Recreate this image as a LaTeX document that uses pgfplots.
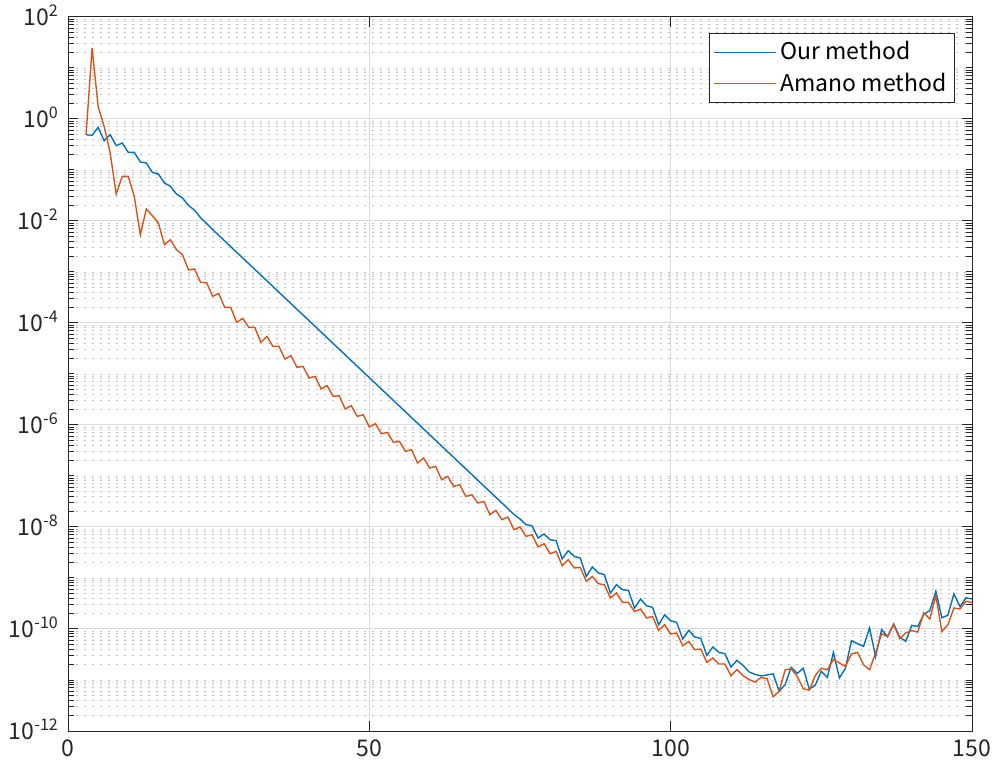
\documentclass[border=0pt]{standalone}
\usepackage{fontspec}
\setmainfont{Noto Sans CJK JP}
\usepackage{pgfplots}
\pgfplotsset{compat=1.18}
\usepackage{pgfplotstable}
\definecolor{mblue}{rgb}{0,0.447,0.741}
\definecolor{morange}{rgb}{0.85,0.325,0.098}
\definecolor{axgray}{rgb}{0.15,0.15,0.15}

% x, e = log10 of the residual
\pgfplotstableread{
x e
3 -0.308
4 -0.321
5 -0.164
6 -0.425
7 -0.308
8 -0.524
9 -0.471
10 -0.654
11 -0.654
12 -0.843
13 -0.863
14 -1.047
15 -1.078
16 -1.255
17 -1.320
18 -1.471
19 -1.549
20 -1.694
21 -1.790
22 -1.935
23 -2.050
24 -2.168
25 -2.280
26 -2.391
27 -2.503
28 -2.615
29 -2.726
30 -2.838
31 -2.950
32 -3.061
33 -3.173
34 -3.285
35 -3.397
36 -3.508
37 -3.620
38 -3.732
39 -3.843
40 -3.955
41 -4.067
42 -4.178
43 -4.290
44 -4.402
45 -4.514
46 -4.625
47 -4.737
48 -4.849
49 -4.960
50 -5.072
51 -5.184
52 -5.295
53 -5.407
54 -5.519
55 -5.631
56 -5.742
57 -5.854
58 -5.966
59 -6.077
60 -6.189
61 -6.301
62 -6.412
63 -6.524
64 -6.636
65 -6.748
66 -6.859
67 -6.971
68 -7.083
69 -7.194
70 -7.306
71 -7.418
72 -7.529
73 -7.641
74 -7.753
75 -7.843
76 -7.955
77 -7.975
78 -8.216
79 -8.137
80 -8.249
81 -8.269
82 -8.627
83 -8.465
84 -8.576
85 -8.608
86 -8.968
87 -8.784
88 -8.902
89 -8.935
90 -9.294
91 -9.131
92 -9.229
93 -9.243
94 -9.588
95 -9.412
96 -9.543
97 -9.576
98 -9.916
99 -9.720
100 -9.837
101 -9.871
102 -10.196
103 -10.027
104 -10.157
105 -10.184
106 -10.517
107 -10.353
108 -10.458
109 -10.484
110 -10.745
111 -10.615
112 -10.713
113 -10.84
114 -10.89
115 -10.92
116 -10.90
117 -10.88
118 -11.22
119 -11.09
120 -10.75
121 -10.87
122 -10.77
123 -11.18
124 -11.10
125 -10.83
126 -10.95
127 -10.46
128 -10.96
129 -10.77
130 -10.23
131 -10.29
132 -10.34
133 -9.98
134 -10.54
135 -10.01
136 -10.15
137 -9.90
138 -10.16
139 -10.24
140 -9.93
141 -9.95
142 -9.71
143 -9.64
144 -9.26
145 -9.78
146 -9.73
147 -9.31
148 -9.56
149 -9.39
150 -9.41
}\ours

\pgfplotstableread{
x e
3 -0.308
4 1.392
5 0.247
6 -0.145
7 -0.667
8 -1.471
9 -1.125
10 -1.125
11 -1.518
12 -2.269
13 -1.765
14 -1.896
15 -2.040
16 -2.465
17 -2.367
18 -2.563
19 -2.66
20 -2.96
21 -2.94
22 -3.204
23 -3.21
24 -3.478
25 -3.42
26 -3.694
27 -3.694
28 -3.988
29 -3.91
30 -4.086
31 -4.086
32 -4.380
33 -4.263
34 -4.459
35 -4.459
36 -4.706
37 -4.641
38 -4.870
39 -4.851
40 -5.079
41 -5.047
42 -5.294
43 -5.229
44 -5.439
45 -5.425
46 -5.686
47 -5.621
48 -5.831
49 -5.798
50 -6.039
51 -5.974
52 -6.171
53 -6.145
54 -6.34
55 -6.32
56 -6.518
57 -6.484
58 -6.745
59 -6.647
60 -6.843
61 -6.812
62 -7.073
63 -7.008
64 -7.204
65 -7.171
66 -7.400
67 -7.367
68 -7.529
69 -7.498
70 -7.759
71 -7.674
72 -7.857
73 -7.804
74 -8.053
75 -8.000
76 -8.184
77 -8.151
78 -8.392
79 -8.327
80 -8.524
81 -8.478
82 -8.759
83 -8.641
84 -8.804
85 -8.792
86 -9.067
87 -8.969
88 -9.112
89 -9.131
90 -9.392
91 -9.294
92 -9.478
93 -9.478
94 -9.66
95 -9.608
96 -9.784
97 -9.753
98 -10.027
99 -9.916
100 -10.098
101 -10.078
102 -10.327
103 -10.243
104 -10.406
105 -10.392
106 -10.655
107 -10.569
108 -10.686
109 -10.686
110 -10.916
111 -10.798
112 -10.916
113 -10.99
114 -11.04
115 -10.95
116 -10.975
117 -11.33
118 -11.22
119 -10.80
120 -10.78
121 -10.93
122 -11.17
123 -11.20
124 -10.91
125 -10.77
126 -10.80
127 -10.60
128 -10.667
129 -10.733
130 -10.49
131 -10.458
132 -10.70
133 -10.798
134 -10.471
135 -10.092
136 -10.145
137 -9.916
138 -10.19
139 -10.078
140 -10.033
141 -10.059
142 -9.686
143 -9.804
144 -9.347
145 -10.047
146 -9.916
147 -9.588
148 -9.608
149 -9.459
150 -9.478
}\amano

\begin{document}
\begin{tikzpicture}
\begin{axis}[
  scale only axis, width=452pt, height=357pt,
  at={(0,0)}, anchor=south west,
  xmin=0, xmax=150, ymin=1e-12, ymax=1e2, ymode=log,
  xtick={0,50,100,150}, xticklabels={0,50,100,150},
  ytick={1e-12,1e-10,1e-8,1e-6,1e-4,1e-2,1e0,1e2},
  yticklabels={10\textsuperscript{-12},10\textsuperscript{-10},10\textsuperscript{-8},10\textsuperscript{-6},10\textsuperscript{-4},10\textsuperscript{-2},10\textsuperscript{0},10\textsuperscript{2}},
  minor ytick={2e-12,3e-12,4e-12,5e-12,6e-12,7e-12,8e-12,9e-12,
    1e-11,2e-11,3e-11,4e-11,5e-11,6e-11,7e-11,8e-11,9e-11,
    2e-10,3e-10,4e-10,5e-10,6e-10,7e-10,8e-10,9e-10,
    1e-9,2e-9,3e-9,4e-9,5e-9,6e-9,7e-9,8e-9,9e-9,
    2e-8,3e-8,4e-8,5e-8,6e-8,7e-8,8e-8,9e-8,
    1e-7,2e-7,3e-7,4e-7,5e-7,6e-7,7e-7,8e-7,9e-7,
    2e-6,3e-6,4e-6,5e-6,6e-6,7e-6,8e-6,9e-6,
    1e-5,2e-5,3e-5,4e-5,5e-5,6e-5,7e-5,8e-5,9e-5,
    2e-4,3e-4,4e-4,5e-4,6e-4,7e-4,8e-4,9e-4,
    1e-3,2e-3,3e-3,4e-3,5e-3,6e-3,7e-3,8e-3,9e-3,
    2e-2,3e-2,4e-2,5e-2,6e-2,7e-2,8e-2,9e-2,
    1e-1,2e-1,3e-1,4e-1,5e-1,6e-1,7e-1,8e-1,9e-1,
    2,3,4,5,6,7,8,9,
    10,20,30,40,50,60,70,80,90},
  grid=both,
  major grid style={black!14, line width=0.5pt},
  minor grid style={black!24, dash pattern=on 1pt off 3pt, line width=0.45pt},
  axis line style={axgray, line width=0.5pt},
  tick style={axgray, line width=0.5pt},
  major tick length=5pt, minor tick length=3pt,
  tick align=inside,
  tick label style={font=\fontsize{11.5}{13}\selectfont, text=axgray},
  yticklabel style={anchor=base east, yshift=-4.1pt, xshift=-1pt},
  xticklabel style={yshift=-1pt},
  legend style={at={(1,1)}, anchor=north east, xshift=-8.5pt, yshift=-8pt,
    draw=axgray, line width=0.5pt, fill=white,
    font=\fontsize{11.5}{13}\selectfont, row sep=1pt,
    inner xsep=2pt, inner ysep=2pt},
  legend cell align=left,
  legend image code/.code={\draw[#1, line width=0.6pt] (2pt,0pt) -- (33pt,0pt);},
]
\addplot[mblue, line width=0.7pt] table[x=x, y expr={10^(\thisrow{e})}] {\ours};
\addlegendentry{Our method}
\addplot[morange, line width=0.7pt] table[x=x, y expr={10^(\thisrow{e})}] {\amano};
\addlegendentry{Amano method}
\end{axis}
\pgfresetboundingbox
\path[use as bounding box] (-34pt,-16pt) rectangle (463pt,365.5pt);
\end{tikzpicture}
\end{document}
